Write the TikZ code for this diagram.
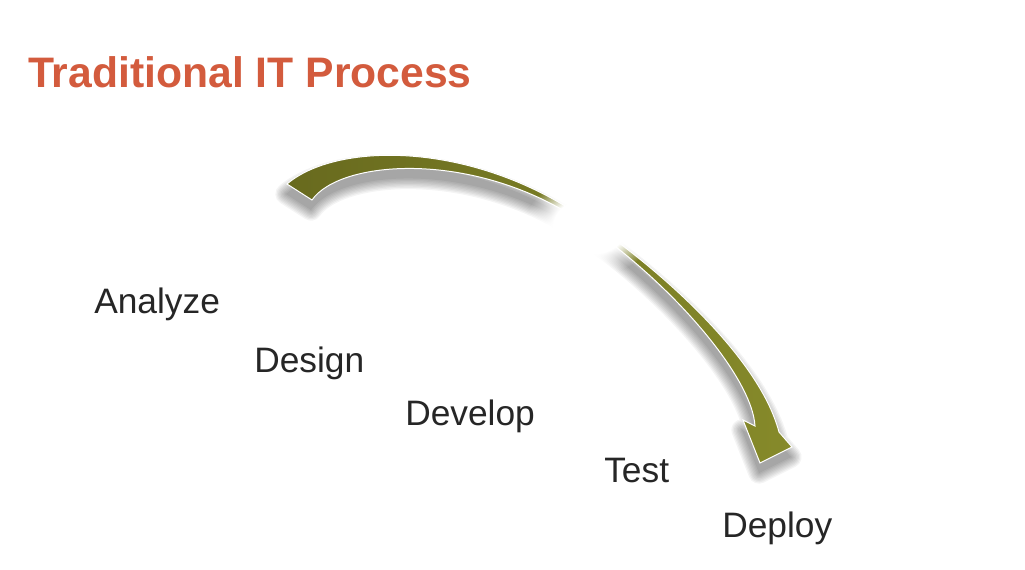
\documentclass[tikz,border=0pt]{standalone}
\usepackage{fontspec}
\setmainfont{Liberation Sans}
\usetikzlibrary{fadings}
\definecolor{titlered}{RGB}{211,91,61}
\definecolor{labelgray}{RGB}{38,38,38}
\definecolor{olivedark}{RGB}{104,106,30}
\definecolor{olivelight}{RGB}{134,138,42}
\pgfdeclareradialshading{blobshade}{\pgfpointorigin}{color(0bp)=(white); color(14bp)=(white); color(25bp)=(black); color(50bp)=(black)}
\pgfdeclarefading{soft blob}{\pgfuseshading{blobshade}}
\tikzset{stage/.style={anchor=base west, inner sep=0pt, text=labelgray, font=\fontsize{26.5}{30}\selectfont},
heading/.style={anchor=base west, inner sep=0pt, text=titlered, font=\bfseries\fontsize{32}{36}\selectfont}}
% outline of the curved arrow, in pixels (y down)
\newcommand{\swoosh}{(287,184) .. controls (335,143) and (465,140) .. (578,214)
  .. controls (646,258) and (758,352) .. (779,432) -- (792,447) -- (760,463) -- (743,420) -- (755,426)
  .. controls (752,375) and (666,277) .. (576,218) .. controls (470,150) and (340,160) .. (312,200) -- cycle}

\begin{document}
\begin{tikzpicture}[x=0.75pt,y=-0.75pt]

    \fill[white] (0,0) rectangle (1025,569);
    \useasboundingbox (0,0) rectangle (1025,569);

    \node[heading] (title) at (28,87) {Traditional IT Process};

    % soft shadow
    \begin{scope}[shift={(-1,10)}]
    \foreach \w in {16,14,...,2}
    \draw[black, draw opacity=0.045, line width=\w pt, line join=round] \swoosh;
    \fill[black!35] \swoosh;
    \end{scope}

    \shade[left color=olivedark, right color=olivelight, draw=white, line width=0.75pt] \swoosh;
    \fill[white, path fading=soft blob] (590,226) ellipse [x radius=66, y radius=50];

    \node[stage] (analyze) at (94,313) {Analyze};
    \node[stage] (design) at (254,372) {Design};
    \node[stage] (develop) at (405,425) {Develop};
    \node[stage] (test) at (604,482) {Test};
    \node[stage] (deploy) at (722,537) {Deploy};

\end{tikzpicture}
\end{document}
